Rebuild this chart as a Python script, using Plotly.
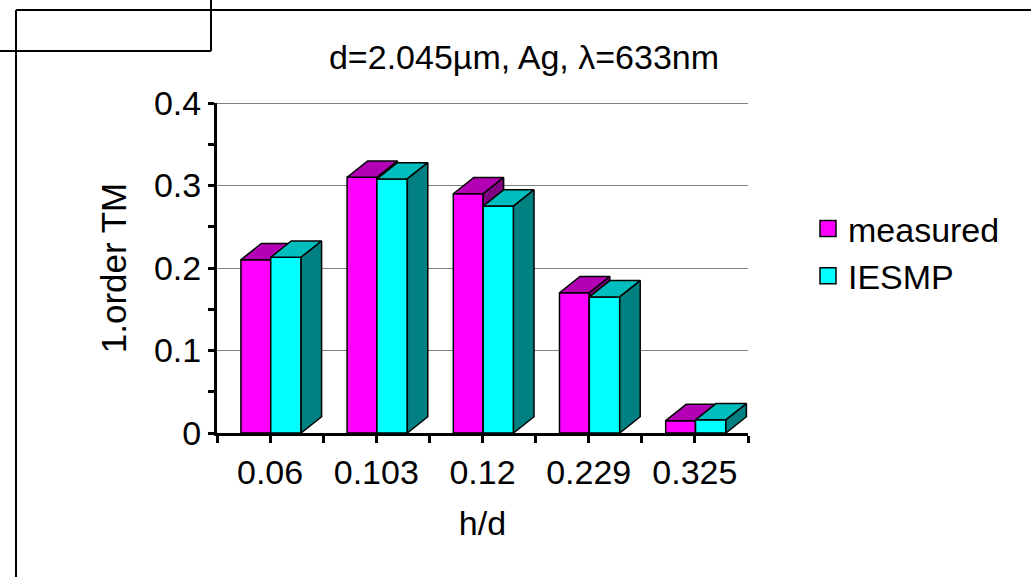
import plotly.graph_objects as go

# ---- data ----
categories = ["0.06", "0.103", "0.12", "0.229", "0.325"]
measured = [0.21, 0.31, 0.29, 0.17, 0.015]
iesmp = [0.213, 0.308, 0.275, 0.165, 0.016]
series_names = ["measured", "IESMP"]

# ---- styling / geometry (in axis units) ----
FONT = "Arial, Liberation Sans, sans-serif"
series_style = [
    dict(front="#FF00FF", top="#B400B4", side="#800080", left=0.225, width=0.281),
    dict(front="#00FFFF", top="#00BEBE", side="#008080", left=0.506, width=0.286),
]
DX = 0.193   # depth offset along x (category units)
DY = 0.0197  # depth offset along y (value units)
EDGE = dict(color="black", width=1.5)

fig = go.Figure()


def poly(xs, ys, color):
    fig.add_trace(go.Scatter(
        x=xs + [xs[0]], y=ys + [ys[0]], mode="lines", fill="toself",
        fillcolor=color, line=EDGE, showlegend=False, hoverinfo="skip"))


for i, cat in enumerate(categories):
    for s, vals in enumerate([measured, iesmp]):
        st = series_style[s]
        v = vals[i]
        x0 = i + st["left"]
        x1 = x0 + st["width"]
        # front face
        poly([x0, x1, x1, x0], [0, 0, v, v], st["front"])
        # top face
        poly([x0, x1, x1 + DX, x0 + DX], [v, v, v + DY, v + DY], st["top"])
        # side face
        poly([x1, x1 + DX, x1 + DX, x1], [0, DY, v + DY, v], st["side"])

# legend entries
for s, name in enumerate(series_names):
    fig.add_trace(go.Scatter(
        x=[None], y=[None], mode="markers", name=name,
        marker=dict(symbol="square", size=16, color=series_style[s]["front"],
                    line=dict(color="black", width=1.5))))

# pixel -> paper helpers for decorative frame lines
L, R, T, B = 217, 748, 103, 433
def px(x):
    return (x - L) / (R - L)
def py(y):
    return (B - y) / (B - T)

frame = dict(color="black", width=2)
shapes = [
    dict(type="line", xref="paper", yref="paper", x0=px(16), x1=px(1040), y0=py(10), y1=py(10), line=frame),
    dict(type="line", xref="paper", yref="paper", x0=px(16), x1=px(16), y0=py(10), y1=py(590), line=frame),
    dict(type="line", xref="paper", yref="paper", x0=px(-10), x1=px(211), y0=py(51), y1=py(51), line=frame),
    dict(type="line", xref="paper", yref="paper", x0=px(211), x1=px(211), y0=py(-10), y1=py(51), line=frame),
    dict(type="line", xref="paper", yref="y", x0=0, x1=1, y0=0.4, y1=0.4,
         line=dict(color="black", width=1)),
]

fig.update_layout(
    width=1031, height=577, autosize=False,
    margin=dict(l=L, r=1031 - R, t=T, b=577 - B),
    paper_bgcolor="white", plot_bgcolor="white",
    font=dict(family=FONT, color="black", size=34),
    title=dict(text="d=2.045\u00b5m, Ag, \u03bb=633nm", xref="paper", x=px(524),
               xanchor="center", y=1 - 57 / 577, yanchor="middle",
               font=dict(size=34, family=FONT)),
    showlegend=True,
    legend=dict(x=px(808), y=py(200), xanchor="left", yanchor="top",
                font=dict(size=34, family=FONT), bgcolor="rgba(0,0,0,0)",
                tracegroupgap=0),
    shapes=shapes,
    xaxis=dict(range=[0, 5], showgrid=False, zeroline=False,
               showline=True, linecolor="black", linewidth=3,
               tickmode="array", tickvals=[i + 0.5 for i in range(len(categories))],
               ticktext=categories, ticks="outside", ticklen=7, tickwidth=2.5,
               tickcolor="black", tickfont=dict(size=34),
               minor=dict(tickmode="array", tickvals=list(range(len(categories) + 1)),
                          ticks="outside", ticklen=7, tickwidth=2.5, tickcolor="black",
                          showgrid=False),
               title=dict(text="h/d", font=dict(size=34), standoff=22),
               fixedrange=True),
    yaxis=dict(range=[0, 0.4], showgrid=True, gridcolor="#808080", gridwidth=1,
               zeroline=False, showline=True, linecolor="black", linewidth=3,
               tickmode="array", tickvals=[0, 0.1, 0.2, 0.3, 0.4],
               ticktext=["0", "0.1", "0.2", "0.3", "0.4"],
               ticks="outside", ticklen=6, tickwidth=2.5, tickcolor="black",
               tickfont=dict(size=34),
               minor=dict(tickmode="array", tickvals=[0.05, 0.15, 0.25, 0.35],
                          ticks="outside", ticklen=6, tickwidth=2.5, tickcolor="black",
                          showgrid=False),
               title=dict(text="1.order TM", font=dict(size=35), standoff=17),
               fixedrange=True),
)

fig.write_html("out.html")
